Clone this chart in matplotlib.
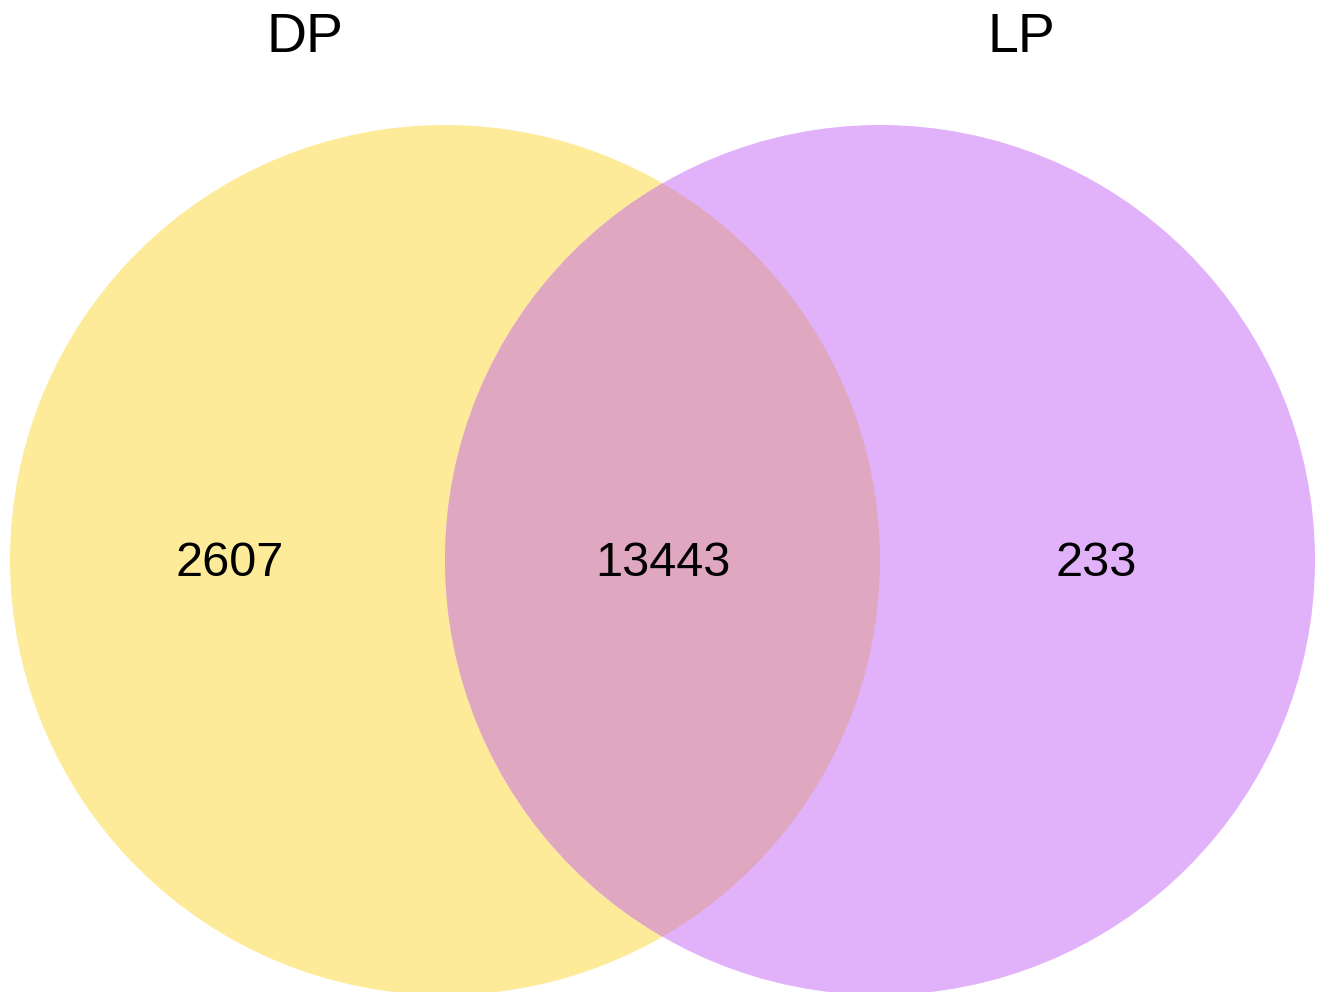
import matplotlib
matplotlib.use("Agg")
import matplotlib.pyplot as plt
from matplotlib.patches import Circle

# Venn data
set_names = ["DP", "LP"]
only_counts = [2607, 233]
shared_count = 13443

# colours of the two sets and of their overlap
set_colors = ["#FDEB99", "#E1B1FA"]
overlap_color = "#E0A8C0"

plt.rcParams['font.family'] = ['Liberation Sans', 'DejaVu Sans']

fig = plt.figure(figsize=(13.21, 9.92), dpi=100)
ax = fig.add_axes([0, 0, 1, 1])
ax.set_xlim(0, 1321)
ax.set_ylim(992, 0)
ax.set_axis_off()

# circle layout (pixel space)
centers = [(445, 560), (880, 560)]
radius = 435

left = Circle(centers[0], radius, facecolor=set_colors[0], edgecolor='none', zorder=1)
right = Circle(centers[1], radius, facecolor=set_colors[1], edgecolor='none', zorder=2)
ax.add_patch(left)
ax.add_patch(right)

# overlap: right circle clipped by the left one
overlap = Circle(centers[1], radius, facecolor=overlap_color, edgecolor='none', zorder=3)
ax.add_patch(overlap)
overlap.set_clip_path(left)

# set titles
ax.text(305, 38, set_names[0], fontsize=40, ha='center', va='center', color='black')
ax.text(1021, 38, set_names[1], fontsize=40, ha='center', va='center', color='black')

# counts
ax.text(230, 563, str(only_counts[0]), fontsize=35, ha='center', va='center', zorder=5)
ax.text(663, 563, str(shared_count), fontsize=35, ha='center', va='center', zorder=5)
ax.text(1096, 563, str(only_counts[1]), fontsize=35, ha='center', va='center', zorder=5)

fig.savefig("out.png", dpi=100, facecolor='white')
